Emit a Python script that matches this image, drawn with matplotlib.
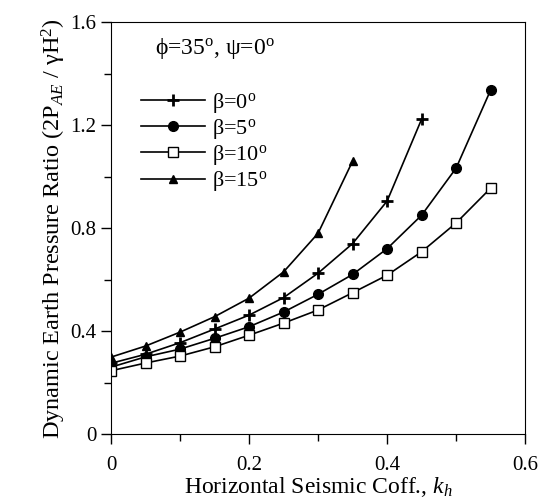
import matplotlib.pyplot as plt

plt.rcParams['font.family'] = ['Liberation Serif', 'DejaVu Serif']
plt.rcParams['mathtext.fontset'] = 'custom'
plt.rcParams['mathtext.rm'] = 'Liberation Serif'
plt.rcParams['mathtext.it'] = 'Liberation Serif:italic'

# data
kh = [0.0, 0.05, 0.10, 0.15, 0.20, 0.25, 0.30, 0.35, 0.40, 0.45, 0.50, 0.55]
beta0 = [0.275, 0.31, 0.355, 0.408, 0.462, 0.53, 0.625, 0.74, 0.905, 1.223]
beta5 = [0.26, 0.30, 0.33, 0.372, 0.417, 0.474, 0.543, 0.62, 0.72, 0.85, 1.033, 1.336]
beta10 = [0.246, 0.276, 0.303, 0.339, 0.384, 0.431, 0.482, 0.549, 0.617, 0.708, 0.82, 0.955]
beta15 = [0.299, 0.342, 0.396, 0.456, 0.528, 0.63, 0.78, 1.06]

xticks = [0, 0.2, 0.4, 0.6]
xlabels = ['0', '0.2', '0.4', '0.6']
yticks = [0, 0.4, 0.8, 1.2, 1.6]
ylabels = ['0', '0.4', '0.8', '1.2', '1.6']

deg = r'$^{\rm o}$'

fig = plt.figure(figsize=(5.47, 5.03), dpi=100)
ax = fig.add_axes([0.203, 0.137, 0.757, 0.819])

ax.plot(kh[:len(beta0)], beta0, '-', color='black', lw=1.2, marker='+',
        ms=9, mew=2, label='β=0' + deg)
ax.plot(kh[:len(beta5)], beta5, '-', color='black', lw=1.2, marker='o',
        ms=7, label='β=5' + deg)
ax.plot(kh[:len(beta10)], beta10, '-', color='black', lw=1.2, marker='s',
        ms=7, mfc='white', mew=1, label='β=10' + deg)
ax.plot(kh[:len(beta15)], beta15, '-', color='black', lw=1.2, marker='^',
        ms=6, label='β=15' + deg)

ax.set_xlim(0, 0.6)
ax.set_ylim(0, 1.6)
ax.set_xticks(xticks)
ax.set_xticklabels(xlabels)
ax.set_xticks([0.1, 0.3, 0.5], minor=True)
ax.set_yticks(yticks)
ax.set_yticklabels(ylabels)
ax.set_yticks([0.2, 0.6, 1.0, 1.4], minor=True)
ax.tick_params(which='both', direction='out', labelsize=15)
ax.tick_params(which='major', length=7, width=1)
ax.tick_params(which='minor', length=5, width=1)
ax.tick_params(axis='x', pad=9)

ax.set_xlabel(r'Horizontal Seismic Coff., $k_h$', fontsize=17, labelpad=0)
ax.set_ylabel(r'Dynamic Earth Pressure Ratio (2P$_{AE}$ / γH$^2$)',
              fontsize=17.5, labelpad=2)

ax.text(0.105, 0.935, 'ϕ=35' + deg + ', ψ=0' + deg, transform=ax.transAxes,
        fontsize=17, va='center')

ax.legend(loc='upper left', bbox_to_anchor=(0.05, 0.855), frameon=False,
          fontsize=16, handlelength=2.9, handletextpad=0.3, labelspacing=0.1,
          borderaxespad=0)

fig.savefig('out.png', dpi=100)
